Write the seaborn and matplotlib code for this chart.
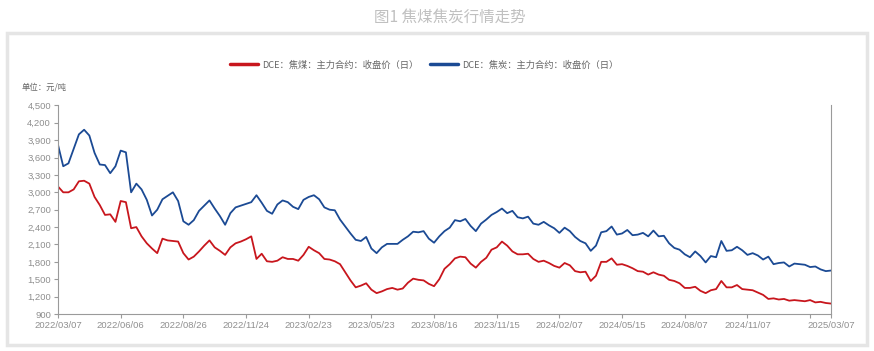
import numpy as np
import pandas as pd
import seaborn as sns
import matplotlib.pyplot as plt
import matplotlib.patches as mpatches
from matplotlib.ticker import FuncFormatter

# weekly samples (every 5 trading days) of the main-contract close, 元/吨
coking_coal = [3100, 3000, 3000, 3050, 3190, 3200, 3150, 2920, 2780, 2610,
               2620, 2490, 2850, 2830, 2380, 2400, 2240, 2120, 2030, 1950,
               2200, 2170, 2160, 2150, 1950, 1840, 1890, 1980, 2080, 2170,
               2050, 1990, 1920, 2050, 2120, 2150, 2190, 2240, 1850, 1940,
               1810, 1800, 1820, 1880, 1850, 1850, 1820, 1920, 2060, 2000,
               1950, 1850, 1840, 1810, 1760, 1620, 1480, 1360, 1390, 1430,
               1320, 1260, 1290, 1330, 1350, 1320, 1340, 1440, 1510, 1490,
               1480, 1420, 1380, 1500, 1680, 1760, 1860, 1890, 1880, 1770,
               1700, 1800, 1870, 2010, 2050, 2150, 2080, 1980, 1930, 1930,
               1940, 1850, 1800, 1820, 1780, 1730, 1700, 1780, 1740, 1640,
               1620, 1630, 1470, 1560, 1800, 1800, 1860, 1750, 1760, 1730,
               1690, 1640, 1630, 1580, 1620, 1580, 1560, 1490, 1470, 1430,
               1350, 1350, 1370, 1300, 1260, 1310, 1330, 1470, 1360, 1360,
               1400, 1330, 1320, 1310, 1270, 1230, 1160, 1170, 1150, 1160,
               1130, 1140, 1130, 1120, 1140, 1100, 1110, 1090, 1080]
coke = [3820, 3450, 3500, 3750, 4000, 4080, 3980, 3680, 3480, 3470,
        3330, 3450, 3720, 3690, 3000, 3150, 3050, 2870, 2600, 2700,
        2880, 2940, 3000, 2850, 2500, 2440, 2520, 2680, 2770, 2860,
        2720, 2590, 2440, 2640, 2740, 2770, 2800, 2830, 2950, 2820,
        2680, 2630, 2790, 2860, 2830, 2750, 2710, 2870, 2920, 2950,
        2880, 2740, 2700, 2690, 2530, 2410, 2290, 2180, 2160, 2230,
        2030, 1950, 2050, 2110, 2110, 2110, 2180, 2240, 2320, 2310,
        2330, 2200, 2130, 2240, 2330, 2390, 2520, 2500, 2540, 2420,
        2330, 2460, 2530, 2610, 2660, 2720, 2640, 2680, 2570, 2550,
        2580, 2460, 2440, 2490, 2430, 2380, 2300, 2390, 2330, 2230,
        2160, 2120, 1990, 2080, 2310, 2330, 2410, 2270, 2290, 2350,
        2260, 2270, 2300, 2240, 2340, 2240, 2250, 2120, 2040, 2010,
        1930, 1880, 1980, 1900, 1790, 1900, 1880, 2160, 1990, 2000,
        2060, 2000, 1920, 1950, 1910, 1840, 1890, 1760, 1780, 1790,
        1720, 1770, 1760, 1750, 1710, 1720, 1670, 1640, 1650]

tick_pos = [0, 12, 24, 36, 48, 60, 72, 84, 96, 108, 120, 132, 144, 148]
tick_labels = ['2022/03/07', '2022/06/06', '2022/08/26', '2022/11/24',
               '2023/02/23', '2023/05/23', '2023/08/16', '2023/11/15',
               '2024/02/07', '2024/05/15', '2024/08/07', '2024/11/07',
               '', '2025/03/07']

names = ['DCE：焦煤：主力合约：收盘价（日）', 'DCE：焦炭：主力合约：收盘价（日）']
colors = ['#C8161D', '#1B4A94']

df = pd.concat([
  pd.DataFrame({'idx': np.arange(len(coking_coal)), 'price': coking_coal, 'series': names[0]}),
  pd.DataFrame({'idx': np.arange(len(coke)), 'price': coke, 'series': names[1]}),
])

sns.set_style('white')
plt.rcParams['font.family'] = ['Noto Sans CJK SC', 'DejaVu Sans']

fig = plt.figure(figsize=(8.74, 3.51), dpi=100)
fig.patch.set_facecolor('white')

# outer light grey panel frame (behind the axes)
frame = mpatches.Rectangle((7/874, 1-345/351), 860/874, 312/351, transform=fig.transFigure,
                           facecolor='white', edgecolor='#e5e5e5', lw=2.5, zorder=-5)
fig.patches.append(frame)

fig.text(450/874, 1-17/351, '图1 焦煤焦炭行情走势', ha='center', va='center',
         fontsize=11.2, color='#c0c0c0')

ax = fig.add_axes([58/874, 1-314/351, 773/874, 208.6/351])
ax.set_zorder(2)
ax.patch.set_alpha(0)
sns.lineplot(data=df, x='idx', y='price', hue='series', palette=colors,
             linewidth=1.3, ax=ax, legend=False)

ax.set_xlim(0, len(coke) - 1)
ax.set_ylim(900, 4500)
ax.set_yticks(np.arange(900, 4501, 300))
ax.yaxis.set_major_formatter(FuncFormatter(lambda v, p: f'{int(v):,}'))
ax.set_xticks(tick_pos)
ax.set_xticklabels(tick_labels)
ax.set_xlabel('')
ax.set_ylabel('')

for s in ['left', 'bottom', 'right']:
  ax.spines[s].set_color('#9a9a9a')
  ax.spines[s].set_linewidth(0.8)
ax.spines['top'].set_visible(False)
ax.tick_params(axis='both', direction='out', length=3, width=0.8, color='#9a9a9a',
               labelsize=6.8, labelcolor='#8f8f8f', pad=2, left=True, bottom=True)
for lab in ax.get_xticklabels() + ax.get_yticklabels():
  lab.set_family('Liberation Sans')

handles = [plt.Line2D([], [], color=c, lw=2.5) for c in colors]
fig.legend(handles, names, loc='center', bbox_to_anchor=(424/874, 1-65/351), ncol=2,
           frameon=False, fontsize=6.7, handlelength=3.0, columnspacing=1.3,
           handletextpad=0.4, labelcolor='#666666')

fig.text(22/874, 1-87/351, '单位：元/吨', ha='left', va='center', fontsize=6, color='#666666')

plt.savefig('out.png', dpi=100)
